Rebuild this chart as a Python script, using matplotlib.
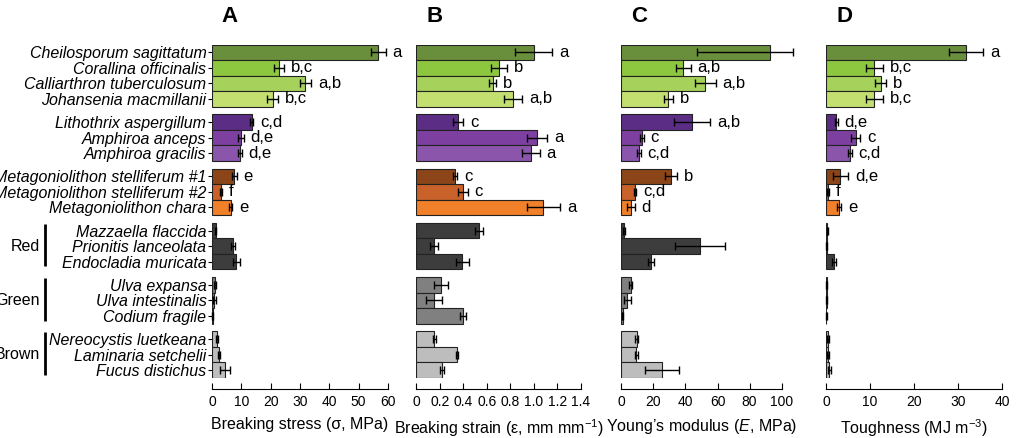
import numpy as np
import matplotlib
matplotlib.use("Agg")
import matplotlib.pyplot as plt
from matplotlib.transforms import blended_transform_factory

plt.rcParams['font.family'] = ['Liberation Sans', 'DejaVu Sans']
plt.rcParams['mathtext.fontset'] = 'custom'
plt.rcParams['mathtext.rm'] = 'Liberation Sans'
plt.rcParams['mathtext.it'] = 'Liberation Sans:italic'

species = ["Cheilosporum sagittatum", "Corallina officinalis", "Calliarthron tuberculosum",
           "Johansenia macmillanii", "Lithothrix aspergillum", "Amphiroa anceps",
           "Amphiroa gracilis", "Metagoniolithon stelliferum #1", "Metagoniolithon stelliferum #2",
           "Metagoniolithon chara", "Mazzaella flaccida", "Prionitis lanceolata",
           "Endocladia muricata", "Ulva expansa", "Ulva intestinalis", "Codium fragile",
           "Nereocystis luetkeana", "Laminaria setchelii", "Fucus distichus"]
group_of = [0, 0, 0, 0, 1, 1, 1, 2, 2, 2, 3, 3, 3, 4, 4, 4, 5, 5, 5]
group_names = {3: "Red", 4: "Green", 5: "Brown"}

colors = ["#6a8f3c", "#8dc63f", "#a6d15b", "#c3df70",
          "#5c2d84", "#7e40a0", "#8a55aa",
          "#8b4518", "#c9622a", "#f08029",
          "#3d3d3d", "#3d3d3d", "#3d3d3d",
          "#808080", "#808080", "#808080",
          "#bdbdbd", "#bdbdbd", "#bdbdbd"]

stress = [56.7, 23.0, 31.8, 20.7, 13.6, 9.9, 9.5, 7.6, 3.0, 6.4,
          1.2, 7.3, 8.2, 1.0, 0.8, 0.2, 1.6, 2.4, 4.4]
stress_err = [2.5, 1.7, 1.9, 1.9, 0.5, 0.9, 0.6, 0.8, 0.3, 0.5,
              0.3, 0.7, 1.2, 0.3, 0.5, 0.1, 0.3, 0.3, 1.7]
stress_let = ["a", "b,c", "a,b", "b,c", "c,d", "d,e", "d,e", "e", "f", "e"]

strain = [1.0, 0.706, 0.65, 0.82, 0.357, 1.026, 0.975, 0.329, 0.394, 1.08,
          0.533, 0.148, 0.391, 0.21, 0.153, 0.397, 0.153, 0.343, 0.218]
strain_err = [0.157, 0.068, 0.031, 0.078, 0.043, 0.085, 0.074, 0.02, 0.043, 0.142,
              0.031, 0.033, 0.057, 0.057, 0.069, 0.027, 0.013, 0.008, 0.017]
strain_let = ["a", "b", "b", "a,b", "c", "a", "a", "c", "c", "a"]

modulus = [92.7, 38.7, 52.4, 29.3, 44.1, 12.7, 11.0, 31.0, 8.5, 6.0,
           1.5, 49.1, 18.5, 5.8, 3.8, 0.9, 9.6, 9.4, 25.6]
modulus_err_lo = [45.7, 4.5, 6.4, 2.9, 11.5, 1.2, 1.0, 3.6, 0.8, 2.3,
                  0.5, 15.6, 2.1, 1.0, 2.1, 0.3, 0.8, 0.8, 10.6]
modulus_err_hi = [14.5, 4.5, 6.4, 2.9, 11.5, 1.2, 1.0, 3.6, 0.8, 2.3,
                  0.5, 15.6, 2.1, 1.0, 2.1, 0.3, 0.8, 0.8, 10.6]
modulus_let = ["a", "a,b", "a,b", "b", "a,b", "c", "c,d", "b", "c,d", "d"]

tough = [31.8, 11.0, 12.4, 11.0, 2.35, 6.7, 5.4, 3.25, 0.5, 2.95,
         0.3, 0.2, 1.8, 0.15, 0.15, 0.1, 0.5, 0.5, 0.75]
tough_err = [3.9, 1.9, 1.25, 1.9, 0.3, 1.1, 0.4, 1.7, 0.2, 0.5,
             0.1, 0.1, 0.5, 0.05, 0.05, 0.05, 0.2, 0.2, 0.3]
tough_let = ["a", "b,c", "b", "b,c", "d,e", "c", "c,d", "d,e", "f", "e"]

panels = [
    ("A", stress, [stress_err, stress_err], stress_let, [0, 60], [0, 10, 20, 30, 40, 50, 60],
     ["0", "10", "20", "30", "40", "50", "60"], "Breaking stress (\u03c3, MPa)"),
    ("B", strain, [strain_err, strain_err], strain_let, [0, 1.4],
     [0, 0.2, 0.4, 0.6, 0.8, 1.0, 1.2, 1.4],
     ["0", "0.2", "0.4", "0.6", "0.8", "1.0", "1.2", "1.4"], "Breaking strain (\u03b5, mm mm$^{-1}$)"),
    ("C", modulus, [modulus_err_lo, modulus_err_hi], modulus_let, [0, 100], [0, 20, 40, 60, 80, 100],
     ["0", "20", "40", "60", "80", "100"], "Young\u2019s modulus ($E$, MPa)"),
    ("D", tough, [tough_err, tough_err], tough_let, [0, 40], [0, 10, 20, 30, 40],
     ["0", "10", "20", "30", "40"], "Toughness (MJ m$^{-3}$)"),
]

# row positions: extra half-row gap between groups
ypos = np.array([i + 0.5 * g for i, g in enumerate(group_of)])

W, H = 1016, 438
fig = plt.figure(figsize=(W / 100, H / 100), dpi=100)
lefts = [212, 416.3, 621.3, 826]
widths = [176, 164.7, 160.4, 176.3]
top_px, bot_px = 44.5, 378

axes = []
for k, (letter, vals, errs, lets, xlim, xt, xtl, xlab) in enumerate(panels):
    ax = fig.add_axes([lefts[k] / W, 1 - bot_px / H, widths[k] / W, (bot_px - top_px) / H])
    axes.append(ax)
    ax.barh(ypos, vals, height=1.0, color=colors, edgecolor="#222222", linewidth=0.8, zorder=2)
    eb = ax.errorbar(vals, ypos, xerr=errs, fmt="none", ecolor="black", elinewidth=1.0,
                     capsize=3, capthick=1.0, zorder=3)
    for art in eb.get_children():
        art.set_clip_on(False)
    for i, t in enumerate(lets):
        ax.annotate(t, (vals[i] + errs[1][i], ypos[i]), xytext=(5, 0), textcoords="offset points",
                    va="center", ha="left", fontsize=12)
    ax.set_xlim(xlim)
    ax.set_ylim(ypos[-1] + 0.5, -0.5)
    ax.set_xticks(xt)
    ax.set_xticklabels(xtl, fontsize=12)
    ax.tick_params(axis="x", direction="in", length=4, width=0.8, pad=4)
    ax.set_xlabel(xlab, fontsize=11.5, labelpad=6)
    for s in ["top", "right", "left"]:
        ax.spines[s].set_visible(False)
    ax.spines["bottom"].set_position(("outward", 8))
    ax.spines["bottom"].set_linewidth(0.8)
    ax.patch.set_visible(False)
    if k == 0:
        ax.set_yticks(ypos)
        ax.set_yticklabels(species, fontsize=11.5, style="italic")
        ax.tick_params(axis="y", direction="out", length=3, width=0.8, pad=1)
    else:
        ax.set_yticks([])
    fig.text((lefts[k] + 18) / W, 1 - 17 / H, letter, fontsize=16, fontweight="bold",
             ha="center", va="center")

# group brackets for non-coralline algae
ax0 = axes[0]
trans = blended_transform_factory(fig.transFigure, ax0.transData)
for g, name in group_names.items():
    rows = ypos[np.array(group_of) == g]
    ax0.plot([45 / W, 45 / W], [rows[0] - 0.45, rows[-1] + 0.3], transform=trans,
             color="black", linewidth=2, clip_on=False, solid_capstyle="butt")
    ax0.text(40 / W, rows.mean(), name, transform=trans, ha="right", va="center", fontsize=11.5)

fig.savefig("out.png", dpi=100)
